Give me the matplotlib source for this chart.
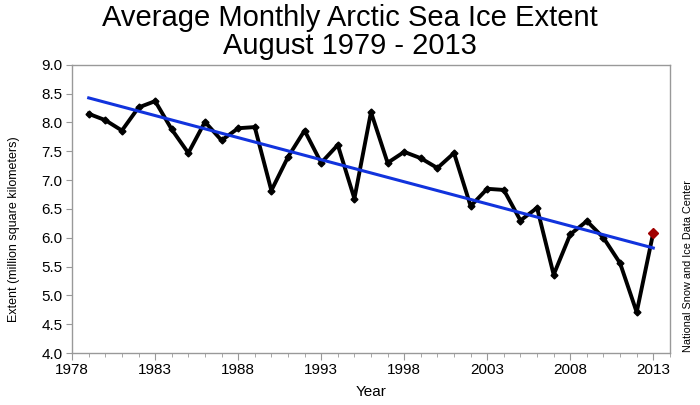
import numpy as np
import matplotlib
matplotlib.use("Agg")
import matplotlib.pyplot as plt
from matplotlib.ticker import MultipleLocator

years = list(range(1979, 2014))
extent = [8.15, 8.04, 7.86, 8.26, 8.37, 7.88, 7.47, 8.01, 7.69, 7.90,
          7.92, 6.82, 7.40, 7.86, 7.30, 7.61, 6.68, 8.18, 7.30, 7.49,
          7.38, 7.21, 7.47, 6.55, 6.85, 6.83, 6.30, 6.52, 5.36, 6.06,
          6.29, 6.00, 5.56, 4.71, 6.09]
title_lines = ['Average Monthly Arctic Sea Ice Extent', 'August 1979 - 2013']

plt.rcParams['font.family'] = ['Liberation Sans', 'DejaVu Sans']

fig = plt.figure(figsize=(7, 4.05), dpi=100)
ax = fig.add_axes([0.103, 0.128, 0.854, 0.712])

# trend line from least squares fit
slope, icpt = np.polyfit(years, extent, 1)
yr = np.array([years[0], years[-1]])
ax.plot(yr, slope * yr + icpt, color='#1133dd', lw=2.2, zorder=3)

ax.plot(years, extent, color='black', lw=2.8, marker='D', ms=3.5, zorder=2)
ax.plot(years[-1], extent[-1], marker='D', color='#a00000', ms=5, zorder=4, ls='none')

ax.set_xlim(1978, 2014)
ax.set_ylim(4.0, 9.0)
ax.set_xticks(range(1978, 2014, 5))
ax.xaxis.set_minor_locator(MultipleLocator(1))
yt = np.arange(4.0, 9.01, 0.5)
ax.set_yticks(yt)
ax.set_yticklabels(["%.1f" % v for v in yt])

for s in ax.spines.values():
    s.set_color('#999999')
    s.set_linewidth(1.0)
ax.tick_params(axis='both', which='both', colors='#999999', labelcolor='black', labelsize=11)
ax.tick_params(axis='x', which='major', length=5, pad=2)
ax.tick_params(axis='x', which='minor', length=3)
ax.tick_params(axis='y', length=4, pad=3)

ax.set_xlabel('Year', fontsize=11, labelpad=6)
ax.set_ylabel('Extent (million square kilometers)', fontsize=9)
ax.yaxis.set_label_coords(-0.087, 0.43)

fig.text(0.5, 0.936, title_lines[0], ha='center', va='baseline', fontsize=21)
fig.text(0.5, 0.867, title_lines[1], ha='center', va='baseline', fontsize=21)
fig.text(0.983, 0.343, 'National Snow and Ice Data Center', rotation=90,
         ha='center', va='center', fontsize=7.8)

fig.savefig('out.png', dpi=100)
